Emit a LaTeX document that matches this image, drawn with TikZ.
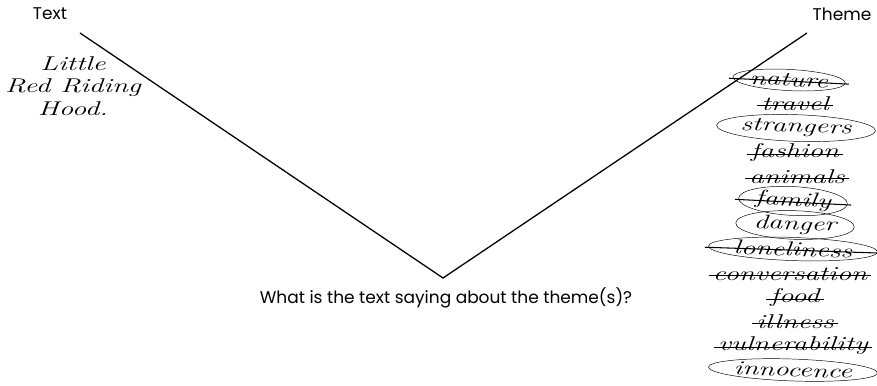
\documentclass[tikz,border=0pt]{standalone}
\usepackage{fontspec}
\setsansfont{Poppins}
\newfontfamily\handfont[FakeStretch=1.45]{Latin Modern Roman}
\usepackage{tikz}
\usetikzlibrary{shapes.geometric}

\begin{document}
\begin{tikzpicture}[x=0.03cm,y=-0.03cm,
    heading/.style={font=\sffamily\fontsize{14.5}{17}\selectfont, inner sep=0pt},
    hand/.style={font=\handfont\itshape\fontsize{17}{19}\selectfont, inner sep=0pt, align=center},
    word/.style={font=\handfont\itshape\fontsize{17}{17}\selectfont, inner sep=0.5pt},
    circled/.style={draw, ellipse, inner xsep=0.5pt, inner ysep=1pt},
    strike/.style={line width=0.9pt}]
\useasboundingbox (0,0) rectangle (877,385);
\node[heading] (texthead) at (50,14) {Text};
\node[heading] (themehead) at (842,14) {Theme};
\node[hand] (story) at (73,86) {Little\\Red Riding\\Hood.};
\coordinate (tleft) at (80,33);
\coordinate (vbottom) at (443,278);
\coordinate (tright) at (807,33);
\draw[line width=1.1pt] (tleft) -- (vbottom) -- (tright);
\node[heading] (question) at (446,298) {What is the text saying about the theme(s)?};
% themes
\node[word,circled,rotate=-3] (nature) at (789,80) {nature};
\node[word] (travel) at (795,104) {travel};
\node[word,circled,rotate=-2] (strangers) at (796,128) {strangers};
\node[word] (fashion) at (795,153) {fashion};
\node[word] (animals) at (797,177) {animals};
\node[word,circled,rotate=-3] (family) at (793,201) {family};
\node[word,circled,rotate=-2] (danger) at (795,225) {danger};
\node[word,circled,rotate=-2] (loneliness) at (793,249) {loneliness};
\node[word] (conversation) at (790,274) {conversation};
\node[word] (food) at (795,298) {food};
\node[word] (illness) at (795,322) {illness};
\node[word] (vulnerability) at (793,346) {vulnerability};
\node[word,circled,rotate=-2] (innocence) at (793,370) {innocence};
\foreach \w in {nature,travel,fashion,animals,family,loneliness,conversation,food,illness,vulnerability}
  \draw[strike] ([xshift=-3pt,yshift=-1pt]\w.west) -- ([xshift=3pt,yshift=-1pt]\w.east);
\end{tikzpicture}
\end{document}
